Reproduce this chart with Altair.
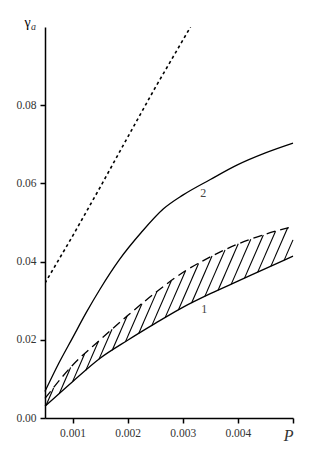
import altair as alt
import numpy as np
import pandas as pd

# ---- data ----
P_DOT = [0.0005, 0.001, 0.0015, 0.002, 0.0025, 0.00314]
Y_DOT = [0.0345, 0.0465, 0.059, 0.0718, 0.0845, 0.1]

P_C2 = [0.0005, 0.00075, 0.001, 0.00125, 0.0015, 0.00185, 0.00225, 0.00265,
        0.003, 0.0035, 0.004, 0.0045, 0.005]
Y_C2 = [0.0068, 0.0140, 0.0205, 0.0270, 0.0330, 0.0405, 0.0475, 0.0535,
        0.0570, 0.0610, 0.0648, 0.0678, 0.0703]

P_C1 = [0.0005, 0.001, 0.0015, 0.002, 0.0025, 0.003, 0.0035, 0.004, 0.0045, 0.005]
Y_LOW = [0.0030, 0.0093, 0.0153, 0.0199, 0.0242, 0.0283, 0.0318, 0.0350, 0.0382, 0.0414]
Y_UP = [0.0050, 0.0135, 0.0200, 0.0262, 0.0320, 0.0372, 0.0412, 0.0445, 0.0470, 0.0490]

LBL_P = [0.00337, 0.00339]
LBL_Y = [0.0575, 0.0279]
LBL_T = ["2", "1"]

X_TICKS = [0.001, 0.002, 0.003, 0.004, 0.005]
Y_TICKS = [0.0, 0.02, 0.04, 0.06, 0.08]

P_LO, P_HI = 0.0005, 0.005
Y_LO, Y_HI = 0.0, 0.1
W, H = 248, 391
SERIF = "Liberation Serif"

# ---- hatch segments between lower curve and dashed curve ----
px_p = W / (P_HI - P_LO)
px_y = H / (Y_HI - Y_LO)
SLOPE = 2.3
rows = []
for p0 in np.arange(0.00052, P_HI, 0.00024):
    y0 = float(np.interp(p0, P_C1, Y_LOW))
    p_end, y_end = p0, y0
    for t in np.arange(0, 80, 0.1):
        p = p0 + t / px_p
        y = y0 + SLOPE * t / px_y
        if p >= P_HI:
            p_end, y_end = P_HI, y0 + SLOPE * (P_HI - p0) * px_p / px_y
            break
        if y >= np.interp(p, P_C1, Y_UP):
            p_end, y_end = p, y
            break
    rows.append({"p": p0, "y": y0, "p2": p_end, "y2": y_end})
hatch = pd.DataFrame(rows)

x_scale = alt.Scale(domain=[P_LO, P_HI], nice=False, zero=False)
y_scale = alt.Scale(domain=[Y_LO, Y_HI], nice=False, zero=False)

x_axis = alt.Axis(
    values=X_TICKS, title=None, grid=False,
    labelExpr="datum.value > 0.0049 ? 'P' : format(datum.value, '.3f')",
    labelFont=SERIF, labelColor="#333",
    labelFontStyle={"condition": {"test": "datum.value > 0.0049", "value": "italic"}, "value": "normal"},
    labelFontSize={"condition": {"test": "datum.value > 0.0049", "value": 16}, "value": 11.5},
    labelBaseline="top", labelPadding=4,
)
y_axis = alt.Axis(
    values=Y_TICKS, format=".2f", grid=False,
    labelFont=SERIF, labelFontSize=11.5, labelColor="#333",
    title="γ", titleAngle=0, titleX=-18, titleY=-1, titleAlign="center",
    titleBaseline="alphabetic", titleFontSize=14, titleFontWeight="normal",
    titleFont=SERIF, titleColor="black", labelPadding=4,
)

d_dot = pd.DataFrame({"p": P_DOT, "y": Y_DOT})
d_c2 = pd.DataFrame({"p": P_C2, "y": Y_C2})
d_low = pd.DataFrame({"p": P_C1, "y": Y_LOW})
d_up = pd.DataFrame({"p": P_C1, "y": Y_UP})
d_lbl = pd.DataFrame({"p": LBL_P, "y": LBL_Y, "t": LBL_T})
d_sub = pd.DataFrame({"t": ["a"]})

base_x = alt.X("p:Q", scale=x_scale, axis=x_axis)
base_y = alt.Y("y:Q", scale=y_scale, axis=y_axis)

dot = alt.Chart(d_dot).mark_line(color="black", strokeWidth=1.6, strokeDash=[3, 3], clip=True).encode(
    x=base_x, y=base_y)
c2 = alt.Chart(d_c2).mark_line(color="black", strokeWidth=1.3, interpolate="monotone").encode(
    x="p:Q", y="y:Q")
low = alt.Chart(d_low).mark_line(color="black", strokeWidth=1.3, interpolate="monotone").encode(
    x="p:Q", y="y:Q")
up = alt.Chart(d_up).mark_line(color="black", strokeWidth=1.3, strokeDash=[9, 5], interpolate="monotone").encode(
    x="p:Q", y="y:Q")
hat = alt.Chart(hatch).mark_rule(color="black", strokeWidth=1.1).encode(
    x="p:Q", y="y:Q", x2="p2:Q", y2="y2:Q")
lbl = alt.Chart(d_lbl).mark_text(font=SERIF, fontSize=12, color="#444").encode(
    x="p:Q", y="y:Q", text="t:N")
sub = alt.Chart(d_sub).mark_text(font=SERIF, fontSize=10, fontStyle="italic", color="#333",
                                 align="left", baseline="alphabetic").encode(
    x=alt.value(-14), y=alt.value(3), text="t:N")

chart = alt.layer(dot, c2, low, up, hat, lbl, sub).properties(
    width=W, height=H,
    autosize=alt.AutoSizeParams(type="none"),
    padding={"left": 37, "top": 19, "right": 9, "bottom": 31},
    background="white",
).configure_view(stroke=None).configure_axis(
    domainColor="black", domainWidth=1.5, tickColor="black", tickWidth=1.5, tickSize=5,
)

chart.save("out.html", embed_options={"renderer": "svg", "actions": False})
